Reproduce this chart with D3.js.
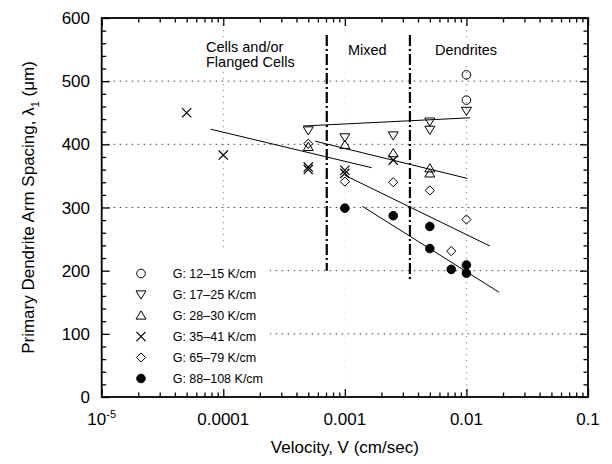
<!DOCTYPE html>
<html>
<head>
<meta charset="utf-8">
<title>Primary dendrite arm spacing vs velocity</title>
<script src="https://cdn.jsdelivr.net/npm/d3@7"></script>
<style>
  body { margin: 0; background: #fff; }
  svg { font-family: "Liberation Sans", Arial, Helvetica, sans-serif; }
</style>
</head>
<body>
<div id="chart"></div>
<script>
// ---- data ----
var legendLabels = ["G: 12\u201315 K/cm", "G: 17\u201325 K/cm", "G: 28\u201330 K/cm",
                    "G: 35\u201341 K/cm", "G: 65\u201379 K/cm", "G: 88\u2013108 K/cm"];
var markerKinds = ["circle", "triDown", "triUp", "cross", "diamond", "dot"];

// [velocity cm/s, spacing um]
var g12 = [[0.01, 510], [0.01, 470]];
var g17 = [[0.0005, 422], [0.001, 411], [0.0025, 414], [0.005, 436], [0.005, 423], [0.01, 453]];
var g28 = [[0.0005, 396], [0.001, 399], [0.0025, 386], [0.005, 362], [0.005, 354]];
var g35 = [[0.00005, 450], [0.0001, 383], [0.0005, 364], [0.0005, 360], [0.001, 359], [0.001, 354], [0.0025, 375]];
var g65 = [[0.0005, 401], [0.001, 341], [0.0025, 340], [0.005, 327], [0.0075, 231], [0.01, 281]];
var g88 = [[0.001, 299], [0.0025, 287], [0.005, 270], [0.005, 235], [0.0075, 202], [0.01, 209], [0.01, 196]];
var seriesList = [g12, g17, g28, g35, g65, g88];

// fitted lines, end points
var fitLines = [
  [[0.000454, 429], [0.0107, 442]],
  [[0.00057, 405], [0.0102, 346]],
  [[0.0000787, 424], [0.00166, 363]],
  [[0.001, 351], [0.0156, 239]],
  [[0.00139, 302], [0.0185, 166]]
];

// regime boundaries (dash-dot)
var boundaries = [[0.00071, 573, 200], [0.00343, 573, 185]];

var xMajor = [1e-5, 1e-4, 1e-3, 1e-2, 1e-1];
var xLabels = ["10", "0.0001", "0.001", "0.01", "0.1"];
var yMajor = [0, 100, 200, 300, 400, 500, 600];
var xGrid = [1e-4, 1e-3, 1e-2];
var yGrid = [100, 200, 300, 400, 500];

// ---- layout ----
var W = 612, H = 464;
var svg = d3.select("#chart").append("svg")
  .attr("width", W).attr("height", H);

var x = d3.scaleLog().domain([1e-5, 0.1]).range([101.7, 588]);
var y = d3.scaleLinear().domain([0, 600]).range([397, 18]);

// minor ticks 2..9 in each decade
var xMinor = [];
xMajor.slice(0, -1).forEach(function (d) {
  for (var k = 2; k <= 9; k++) xMinor.push(d * k);
});
var yMinor = d3.range(0, 601, 20).filter(function (v) { return v % 100 != 0; });

// grid
svg.append("g").selectAll("line").data(yGrid).enter().append("line")
  .attr("x1", x(1e-5)).attr("x2", x(0.1))
  .attr("y1", function (d) { return y(d); }).attr("y2", function (d) { return y(d); })
  .attr("stroke", "#444").attr("stroke-width", 1).attr("stroke-dasharray", "1.5,4.5");
svg.append("g").selectAll("line").data(xGrid).enter().append("line")
  .attr("x1", function (d) { return x(d); }).attr("x2", function (d) { return x(d); })
  .attr("y1", y(600)).attr("y2", y(0))
  .attr("stroke", function (d) { return d == 1e-3 ? "#e2e2e2" : "#888"; })
  .attr("stroke-width", 1).attr("stroke-dasharray", "1.2,4.8");

// white patches behind the annotations and legend
var patches = [[203, 37, 90, 35], [344, 40, 52, 20], [431, 38, 70, 24], [103, 250, 167, 145]];
svg.append("g").selectAll("rect").data(patches).enter().append("rect")
  .attr("x", function (d) { return d[0]; }).attr("y", function (d) { return d[1]; })
  .attr("width", function (d) { return d[2]; }).attr("height", function (d) { return d[3]; })
  .attr("fill", "#fff");

// axes ticks (inward on all four sides)
function tickAxis(axis, vals, size) {
  return axis.tickValues(vals).tickSize(size).tickFormat("");
}
var gx1 = svg.append("g").attr("transform", "translate(0," + y(0) + ")");
gx1.append("g").call(tickAxis(d3.axisBottom(x), xMajor, -8));
gx1.append("g").call(tickAxis(d3.axisBottom(x), xMinor, -4.5));
var gx2 = svg.append("g").attr("transform", "translate(0," + y(600) + ")");
gx2.append("g").call(tickAxis(d3.axisTop(x), xMajor, -8));
gx2.append("g").call(tickAxis(d3.axisTop(x), xMinor, -4.5));
var gy1 = svg.append("g").attr("transform", "translate(" + x(1e-5) + ",0)");
gy1.append("g").call(tickAxis(d3.axisLeft(y), yMajor, -8));
gy1.append("g").call(tickAxis(d3.axisLeft(y), yMinor, -4.5));
var gy2 = svg.append("g").attr("transform", "translate(" + x(0.1) + ",0)");
gy2.append("g").call(tickAxis(d3.axisRight(y), yMajor, -8));
gy2.append("g").call(tickAxis(d3.axisRight(y), yMinor, -4.5));
svg.selectAll(".domain").remove();
svg.selectAll(".tick line").attr("stroke", "#000").attr("stroke-width", 1.3);

// frame
svg.append("rect")
  .attr("x", x(1e-5)).attr("y", y(600))
  .attr("width", x(0.1) - x(1e-5)).attr("height", y(0) - y(600))
  .attr("fill", "none").attr("stroke", "#000").attr("stroke-width", 1.8);

// tick labels
var xl = svg.append("g").attr("font-size", 17).attr("text-anchor", "middle");
xl.selectAll("text").data(xMajor).enter().append("text")
  .attr("x", function (d) { return x(d); }).attr("y", 425)
  .each(function (d, i) {
    var t = d3.select(this);
    t.append("tspan").text(xLabels[i]);
    if (i == 0) t.append("tspan").attr("font-size", 11).attr("dy", -7).text("-5");
  });
svg.append("g").attr("font-size", 17).attr("text-anchor", "end")
  .selectAll("text").data(yMajor).enter().append("text")
  .attr("x", 90).attr("y", function (d) { return y(d); }).attr("dy", "0.36em")
  .text(function (d) { return d; });

// axis titles
svg.append("text").attr("x", (x(1e-5) + x(0.1)) / 2).attr("y", 453)
  .attr("text-anchor", "middle").attr("font-size", 17).text("Velocity, V (cm/sec)");
var yt = svg.append("text").attr("transform", "translate(34," + ((y(0) + y(600)) / 2) + ") rotate(-90)")
  .attr("text-anchor", "middle").attr("font-size", 17);
yt.append("tspan").text("Primary Dendrite Arm Spacing, \u03bb");
yt.append("tspan").attr("font-size", 11).attr("dy", 5).text("1");
yt.append("tspan").attr("dy", -5).text(" (\u03bcm)");

// regime boundaries
svg.append("g").selectAll("line").data(boundaries).enter().append("line")
  .attr("x1", function (d) { return x(d[0]); }).attr("x2", function (d) { return x(d[0]); })
  .attr("y1", function (d) { return y(d[1]); }).attr("y2", function (d) { return y(d[2]); })
  .attr("stroke", "#000").attr("stroke-width", 2.2).attr("stroke-dasharray", "11,3,2,3");

// regime labels
var ann = svg.append("g").attr("font-size", 14.5).attr("fill", "#000");
ann.append("text").attr("x", 206).attr("y", 52).text("Cells and/or");
ann.append("text").attr("x", 206).attr("y", 67).text("Flanged Cells");
ann.append("text").attr("x", 348).attr("y", 55).text("Mixed");
ann.append("text").attr("x", 435).attr("y", 55).text("Dendrites");

// fit lines
var line = d3.line().x(function (d) { return x(d[0]); }).y(function (d) { return y(d[1]); });
svg.append("g").selectAll("path").data(fitLines).enter().append("path")
  .attr("d", line).attr("fill", "none").attr("stroke", "#000").attr("stroke-width", 1);

// markers
function markerPath(kind) {
  var s = 4.6;
  if (kind == "circle" || kind == "dot") return d3.symbol().type(d3.symbolCircle).size(Math.PI * 4.3 * 4.3)();
  if (kind == "triUp") return "M0," + (-s) + "L" + (s + 0.4) + "," + (s - 1) + "L" + (-s - 0.4) + "," + (s - 1) + "Z";
  if (kind == "triDown") return "M0," + s + "L" + (s + 0.4) + "," + (-s + 1) + "L" + (-s - 0.4) + "," + (-s + 1) + "Z";
  if (kind == "diamond") return "M0," + (-s) + "L" + s + ",0L0," + s + "L" + (-s) + ",0Z";
  if (kind == "cross") return "M" + (-s) + "," + (-s) + "L" + s + "," + s + "M" + (-s) + "," + s + "L" + s + "," + (-s);
}
function drawMarker(sel, kind) {
  sel.append("path").attr("d", markerPath(kind))
    .attr("fill", kind == "dot" ? "#000" : "none")
    .attr("stroke", "#000").attr("stroke-width", kind == "cross" ? 1.2 : 1);
}
seriesList.forEach(function (data, i) {
  svg.append("g").selectAll("g").data(data).enter().append("g")
    .attr("transform", function (d) { return "translate(" + x(d[0]) + "," + y(d[1]) + ")"; })
    .each(function () { drawMarker(d3.select(this), markerKinds[i]); });
});

// legend
var leg = svg.append("g").attr("font-size", 12.5);
legendLabels.forEach(function (lab, i) {
  var ly = 273.5 + i * 21;
  drawMarker(leg.append("g").attr("transform", "translate(141," + ly + ")"), markerKinds[i]);
  leg.append("text").attr("x", 172.7).attr("y", ly).attr("dy", "0.36em").text(lab);
});
</script>
</body>
</html>
